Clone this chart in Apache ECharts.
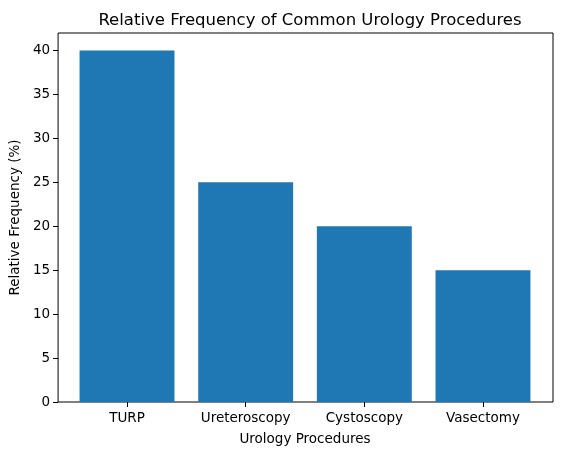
<!DOCTYPE html>
<html>
<head>
<meta charset="utf-8">
<script src="https://cdn.jsdelivr.net/npm/echarts@6/dist/echarts.min.js"></script>
<style>
  html, body { margin: 0; padding: 0; background: #fff; }
  #main { width: 562px; height: 455px; }
</style>
</head>
<body>
<div id="main"></div>
<script>
const procedures = ['TURP', 'Ureteroscopy', 'Cystoscopy', 'Vasectomy']
const frequency = [40, 25, 20, 15]

const font = 'DejaVu Sans'
const chart = echarts.init(document.getElementById('main'))

// grid 0 is the frame with the y axis, grid 1 holds the bars (inset like matplotlib margins)
const option = {
  animation: false,
  textStyle: { fontFamily: font },
  title: {
    text: 'Relative Frequency of Common Urology Procedures',
    left: 305,
    top: 7,
    textAlign: 'center',
    textStyle: { fontFamily: font, fontSize: 16.5, fontWeight: 'normal', color: '#000' }
  },
  grid: [
    { left: 57, right: 9, top: 33, bottom: 53, show: true, borderColor: '#000', borderWidth: 1, backgroundColor: 'transparent' },
    { left: 67.7, right: 19.7, top: 33, bottom: 53 }
  ],
  xAxis: [
    { gridIndex: 0, type: 'value', show: false, min: 0, max: 1 },
    {
      gridIndex: 1,
      type: 'category',
      data: procedures,
      name: 'Urology Procedures',
      nameLocation: 'middle',
      nameGap: 30,
      nameTextStyle: { fontFamily: font, fontSize: 13.5, color: '#000' },
      axisLine: { show: false },
      axisTick: { show: true, alignWithLabel: true, length: 5, lineStyle: { color: '#000' } },
      axisLabel: { fontFamily: font, fontSize: 13.5, color: '#000', margin: 9 }
    }
  ],
  yAxis: [
    {
      gridIndex: 0,
      type: 'value',
      min: 0,
      max: 42,
      interval: 5,
      name: 'Relative Frequency (%)',
      nameLocation: 'middle',
      nameGap: 35,
      nameTextStyle: { fontFamily: font, fontSize: 13.5, color: '#000' },
      splitLine: { show: false },
      axisLine: { show: false },
      axisTick: { show: true, length: 5, lineStyle: { color: '#000' } },
      axisLabel: { fontFamily: font, fontSize: 13.5, color: '#000', margin: 8, showMaxLabel: false }
    },
    { gridIndex: 1, type: 'value', min: 0, max: 42, show: false }
  ],
  series: [{
    type: 'bar',
    xAxisIndex: 1,
    yAxisIndex: 1,
    data: frequency,
    barWidth: '80%',
    itemStyle: { color: '#1f77b4' }
  }]
}

chart.setOption(option)
</script>
</body>
</html>
